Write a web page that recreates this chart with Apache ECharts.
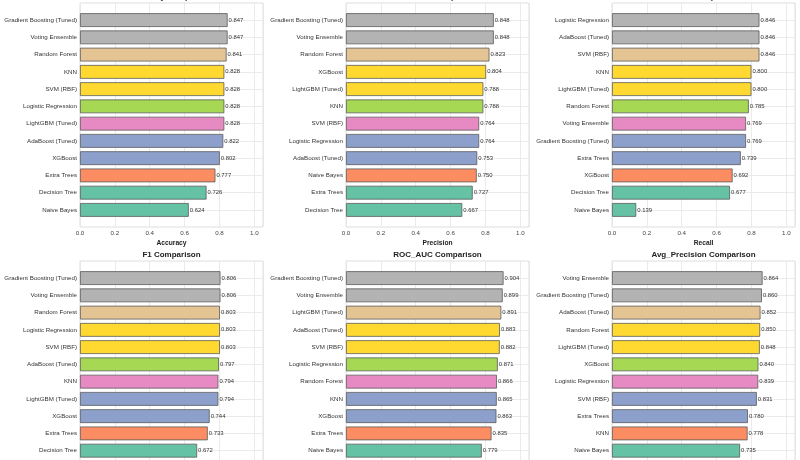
<!DOCTYPE html>
<html>
<head>
<meta charset="utf-8">
<script src="https://cdn.jsdelivr.net/npm/echarts@6/dist/echarts.min.js"></script>
<style>
html,body{margin:0;padding:0;background:#fff;}
#chart{width:800px;height:460px;}
</style>
</head>
<body>
<div id="chart"></div>
<script>
const metricNames = ['Accuracy', 'Precision', 'Recall', 'F1', 'ROC_AUC', 'Avg_Precision'];
const xTicks = [0, 0.2, 0.4, 0.6, 0.8, 1.0];

const accuracyModels = ['Gradient Boosting (Tuned)', 'Voting Ensemble', 'Random Forest', 'KNN', 'SVM (RBF)', 'Logistic Regression', 'LightGBM (Tuned)', 'AdaBoost (Tuned)', 'XGBoost', 'Extra Trees', 'Decision Tree', 'Naive Bayes'];
const accuracyValues = [0.847, 0.847, 0.841, 0.828, 0.828, 0.828, 0.828, 0.822, 0.802, 0.777, 0.726, 0.624];

const precisionModels = ['Gradient Boosting (Tuned)', 'Voting Ensemble', 'Random Forest', 'XGBoost', 'LightGBM (Tuned)', 'KNN', 'SVM (RBF)', 'Logistic Regression', 'AdaBoost (Tuned)', 'Naive Bayes', 'Extra Trees', 'Decision Tree'];
const precisionValues = [0.848, 0.848, 0.823, 0.804, 0.788, 0.788, 0.764, 0.764, 0.753, 0.750, 0.727, 0.667];

const recallModels = ['Logistic Regression', 'AdaBoost (Tuned)', 'SVM (RBF)', 'KNN', 'LightGBM (Tuned)', 'Random Forest', 'Voting Ensemble', 'Gradient Boosting (Tuned)', 'Extra Trees', 'XGBoost', 'Decision Tree', 'Naive Bayes'];
const recallValues = [0.846, 0.846, 0.846, 0.800, 0.800, 0.785, 0.769, 0.769, 0.739, 0.692, 0.677, 0.139];

const f1Models = ['Gradient Boosting (Tuned)', 'Voting Ensemble', 'Random Forest', 'Logistic Regression', 'SVM (RBF)', 'AdaBoost (Tuned)', 'KNN', 'LightGBM (Tuned)', 'XGBoost', 'Extra Trees', 'Decision Tree', 'Naive Bayes'];
const f1Values = [0.806, 0.806, 0.803, 0.803, 0.803, 0.797, 0.794, 0.794, 0.744, 0.733, 0.672, 0.236];

const rocModels = ['Gradient Boosting (Tuned)', 'Voting Ensemble', 'LightGBM (Tuned)', 'AdaBoost (Tuned)', 'SVM (RBF)', 'Logistic Regression', 'Random Forest', 'KNN', 'XGBoost', 'Extra Trees', 'Naive Bayes', 'Decision Tree'];
const rocValues = [0.904, 0.899, 0.891, 0.883, 0.882, 0.871, 0.866, 0.865, 0.863, 0.835, 0.779, 0.747];

const apModels = ['Voting Ensemble', 'Gradient Boosting (Tuned)', 'AdaBoost (Tuned)', 'Random Forest', 'LightGBM (Tuned)', 'XGBoost', 'Logistic Regression', 'SVM (RBF)', 'Extra Trees', 'KNN', 'Naive Bayes', 'Decision Tree'];
const apValues = [0.864, 0.860, 0.852, 0.850, 0.848, 0.840, 0.839, 0.831, 0.780, 0.778, 0.735, 0.630];

const rankColors = ['#b3b3b3', '#b3b3b3', '#e5c494', '#ffd92f', '#ffd92f', '#a6d854', '#e78ac3', '#8da0cb', '#8da0cb', '#fc8d62', '#66c2a5', '#66c2a5'];

const panels = [
  {models: accuracyModels, values: accuracyValues},
  {models: precisionModels, values: precisionValues},
  {models: recallModels, values: recallValues},
  {models: f1Models, values: f1Values},
  {models: rocModels, values: rocValues},
  {models: apModels, values: apValues}
];

// layout
const colLefts = [80, 346, 612];
const rowTops = [3, 261];
const frameW = 183;
const frameH = 224;
const unit = frameH / 12.98;
const xMax = 1.05;

const grid = [], xAxis = [], yAxis = [], series = [], title = [];
const textColor = '#333';
const gridLineColor = '#e6e6e6';
const font = 'Liberation Sans, Arial, sans-serif';

panels.forEach((p, i) => {
  const col = i % 3, row = Math.floor(i / 3);
  const left = colLefts[col], top = rowTops[row];
  const fi = grid.length;
  // frame grid
  grid.push({left: left, top: top, width: frameW, height: frameH, show: true, borderColor: '#d6d6d6', borderWidth: 0.8, backgroundColor: '#fff', outerBoundsMode: 'none', containLabel: false});
  xAxis.push({
    gridIndex: fi, type: 'value', min: 0, max: xMax, interval: 0.2,
    axisLine: {show: false}, axisTick: {show: false},
    splitLine: {show: true, lineStyle: {color: gridLineColor, width: 0.8}},
    axisLabel: {show: true, fontSize: 6.2, color: '#444', margin: 3, showMaxLabel: false, fontFamily: font,
      formatter: v => (xTicks.some(t => Math.abs(t - v) < 1e-6) ? v.toFixed(1) : '')},
    name: metricNames[i], nameLocation: 'middle', nameGap: 13,
    nameTextStyle: {fontSize: 6.7, fontWeight: 'bold', color: '#222', fontFamily: font}
  });
  yAxis.push({gridIndex: fi, type: 'value', min: 0, max: 1, show: false, splitLine: {show: false}});
  // bar grid
  const bi = grid.length;
  grid.push({left: left, top: top + 0.99 * unit, width: frameW, height: 11 * unit, show: false, outerBoundsMode: 'none', containLabel: false});
  xAxis.push({gridIndex: bi, type: 'value', min: 0, max: xMax, show: false, splitLine: {show: false}});
  yAxis.push({
    gridIndex: bi, type: 'category', data: p.models, inverse: true, boundaryGap: false,
    axisLine: {show: false}, axisTick: {show: false},
    splitLine: {show: true, lineStyle: {color: gridLineColor, width: 0.8}},
    axisLabel: {fontSize: 6.2, color: textColor, margin: 3, fontFamily: font}
  });
  series.push({
    type: 'bar', xAxisIndex: bi, yAxisIndex: bi, clip: false,
    barWidth: 0.8 * unit,
    data: p.values.map((v, k) => ({value: v, itemStyle: {color: rankColors[k]}})),
    itemStyle: {borderColor: '#5a5a5a', borderWidth: 0.8},
    label: {show: true, position: 'right', distance: 1, fontSize: 5.9, color: textColor, fontFamily: font,
      formatter: d => d.value.toFixed(3)},
    silent: true, animation: false
  });
  title.push({
    text: metricNames[i] + ' Comparison',
    left: left + frameW / 2, top: top - 10, textAlign: 'center', padding: 0,
    textStyle: {fontSize: 8, fontWeight: 'bold', color: '#222', fontFamily: font}
  });
});

const chart = echarts.init(document.getElementById('chart'), null, {renderer: 'canvas'});
chart.setOption({backgroundColor: '#fff', animation: false, title, grid, xAxis, yAxis, series});
</script>
</body>
</html>
